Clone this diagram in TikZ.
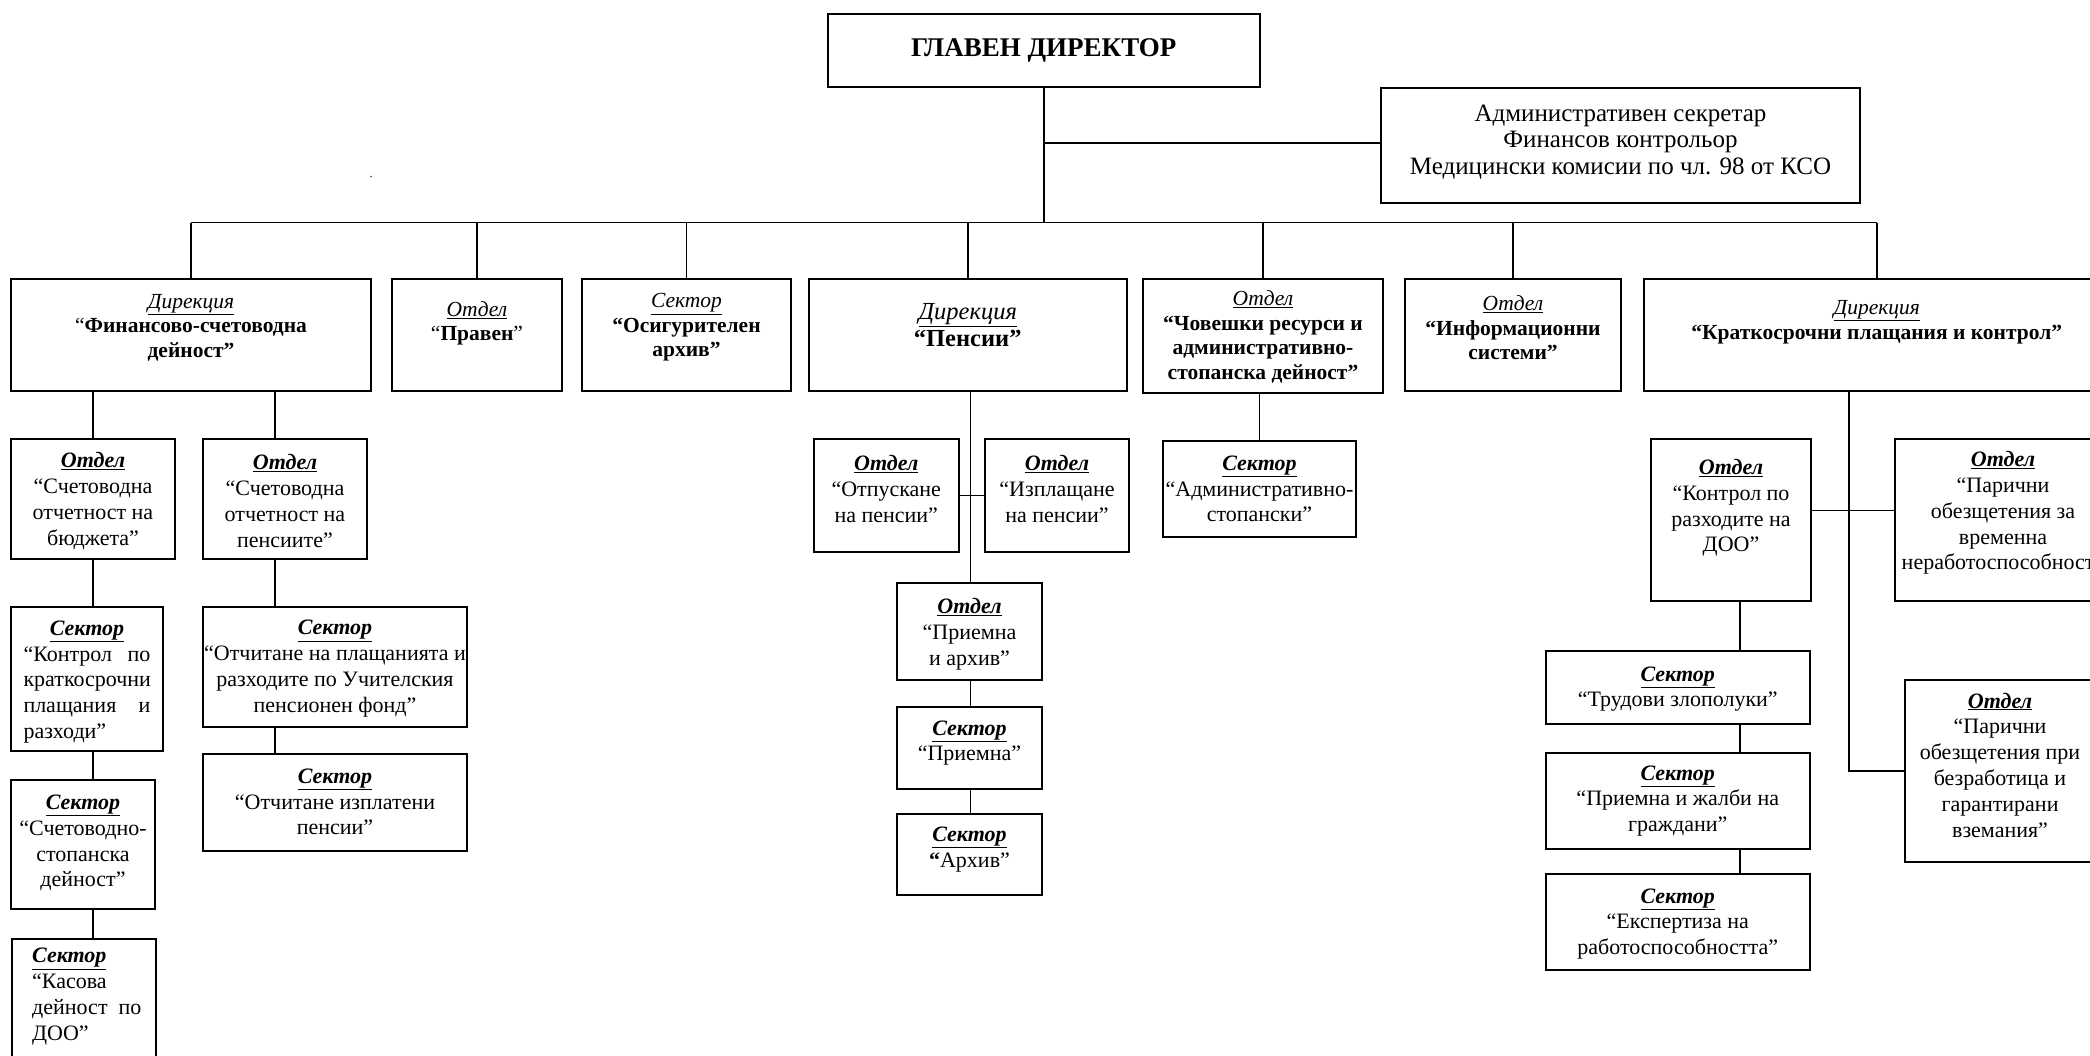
\documentclass[tikz,border=0pt]{standalone}
\usepackage{fontspec}
\setmainfont{Liberation Serif}
\usetikzlibrary{calc}
\tikzset{
  boxst/.style={draw, line width=2pt, rectangle, inner sep=0pt},
  txt/.style={inner sep=0pt, align=center, font=\fontsize{22}{25.8}\selectfont},
  toptxt/.style={font=\fontsize{21.5}{24.5}\selectfont},
  conn/.style={line width=1.8pt},
}
\newcommand\hd[1]{\textbf{\textit{\underline{#1}}}}
\newcommand\hi[1]{\textit{\underline{#1}}}
% [text style] name x1 y1 x2 y2 texty text
\newcommand\bx[8][]{%
  \node[boxst, minimum width={#5pt-#3pt}, minimum height={#6pt-#4pt}] (#2) at ({(#3+#5)/2},{(#4+#6)/2}) {};
  \node[txt,#1] (#2t) at ({(#3+#5)/2},#7) {#8};
}
\begin{document}
\begin{tikzpicture}[x=1pt,y=-1pt]
\useasboundingbox (0,0) rectangle (2090,1055);
\clip (0,0) rectangle (2090,1055);

% top
\bx[font=\fontsize{27}{30}\selectfont]{main}{828}{14}{1259.5}{86.5}{50}{\textbf{ГЛАВЕН ДИРЕКТОР}}
\bx[font=\fontsize{25}{26.5}\selectfont]{admin}{1381}{87.5}{1860}{203}{142}{Административен секретар\\Финансов контрольор\\Медицински комисии по чл. 98 от КСО}

% level 1
\bx[toptxt]{fin}{11}{278.5}{371}{391}{327.5}{\hi{Дирекция}\\“\textbf{Финансово-счетоводна}\\\textbf{дейност”}}
\bx[toptxt]{prav}{392}{278.5}{562}{391}{323.5}{\hi{Отдел}\\“\textbf{Правен}”}
\bx[toptxt]{osig}{582}{278.5}{791}{391}{327.5}{\hi{Сектор}\\\textbf{“Осигурителен}\\\textbf{архив”}}
\bx[font=\fontsize{24.5}{27}\selectfont]{pens}{808.5}{278.5}{1127}{391}{325}{\hi{Дирекция}\\\textbf{“Пенсии”}}
\bx[toptxt]{chov}{1143}{278.5}{1383}{393}{337}{\hi{Отдел}\\\textbf{“Човешки ресурси и}\\\textbf{административно-}\\\textbf{стопанска дейност”}}
\bx[toptxt]{info}{1405}{278.5}{1621}{391}{328}{\hi{Отдел}\\\textbf{“Информационни}\\\textbf{системи”}}
\bx[toptxt]{kr}{1643.5}{278.5}{2110}{391}{322}{\hi{Дирекция}\\\textbf{“Краткосрочни плащания и контрол”}}

% finance subtree
\bx{c1}{11}{439}{175}{559}{501}{\hd{Отдел}\\“Счетоводна\\отчетност на\\бюджета”}
\bx{c2}{203}{439}{367}{559}{501}{\hd{Отдел}\\“Счетоводна\\отчетност на\\пенсиите”}
\bx{s1}{11}{607}{163}{751}{682}{\hd{Сектор}\\\makebox[127pt][l]{“Контрол\hfill по}\\\makebox[127pt][l]{краткосрочни}\\\makebox[127pt][l]{плащания\hfill и}\\\makebox[127pt][l]{разходи”}}
\bx{s2}{11}{780}{155}{909}{843}{\hd{Сектор}\\“Счетоводно-\\стопанска\\дейност”}
\node[boxst, minimum width=144pt, minimum height=140pt, anchor=north west] (s3) at (11,938) {};
\node[txt, align=left, anchor=north west] (s3t) at (32,948) {\hd{Сектор}\\“Касова\\дейност\ \ по\\ДОО”};
\bx{o1}{203}{607}{467}{727}{668.5}{\hd{Сектор}\\“Отчитане на плащанията и\\разходите по Учителския\\пенсионен фонд”}
\bx{o2}{203}{754}{467}{851}{802}{\hd{Сектор}\\“Отчитане изплатени\\пенсии”}

% pensions subtree
\bx{otp}{814}{439}{958.5}{552}{489}{\hd{Отдел}\\“Отпускане\\на пенсии”}
\bx{izp}{985}{439}{1129}{552}{489}{\hd{Отдел}\\“Изплащане\\на пенсии”}
\bx{pa}{897}{583}{1042}{679.5}{634}{\hd{Отдел}\\“Приемна\\и архив”}
\bx{pr}{897}{707}{1042}{788.5}{743}{\hd{Сектор}\\“Приемна”}
\bx{ar}{897}{813.5}{1042}{895}{849.5}{\hd{Сектор}\\\textbf{“}Архив”}

% HR subtree
\bx{as}{1163}{441}{1356}{537}{489}{\hd{Сектор}\\“Административно-\\стопански”}

% short-term payments subtree
\bx{kd}{1651}{439}{1811}{601}{508}{\hd{Отдел}\\“Контрол по\\разходите на\\ДОО”}
\bx{pv}{1895}{439}{2111}{601}{513}{\hd{Отдел}\\“Парични\\обезщетения за\\временна\\неработоспособност”}
\bx{tz}{1545.5}{651}{1810}{723.5}{689}{\hd{Сектор}\\“Трудови злополуки”}
\bx{pj}{1545.5}{752.5}{1810}{848.5}{801}{\hd{Сектор}\\“Приемна и жалби на\\граждани”}
\bx{ex}{1545.5}{873.5}{1810}{969.5}{924}{\hd{Сектор}\\“Експертиза на\\работоспособността”}
\bx{pb}{1905}{680}{2095}{862}{765}{\hd{Отдел}\\“Парични\\обезщетения при\\безработица и\\гарантирани\\вземания”}

\node[inner sep=0pt, anchor=base, font=\fontsize{12}{12}\selectfont] (dot) at (371,177) {.};

% connectors
\coordinate (bus) at (1043.75,222.5);
\coordinate (adj) at (1043.75,143);
\draw[conn] (main.south) -- (main.south |- bus);
\draw[conn] (adj) -- (adj -| admin.west);
\draw[conn] (fin.north |- bus) -- (kr.north |- bus);
\foreach \n in {fin,prav,osig,pens,chov,info,kr} \draw[conn] (\n.north |- bus) -- (\n.north);

\coordinate (colB) at (275,0);
\draw[conn] (c1.north |- fin.south) -- (c1.north);
\draw[conn] (colB |- fin.south) -- (colB |- c2.north);
\draw[conn] (c1.south) -- (c1.south |- s1.north);
\draw[conn] (c1.south |- s1.south) -- (c1.south |- s2.north);
\draw[conn] (c1.south |- s2.south) -- (c1.south |- s3.north);
\draw[conn] (colB |- c2.south) -- (colB |- o1.north);
\draw[conn] (colB |- o1.south) -- (colB |- o2.north);

\coordinate (colP) at (970.5,0);
\draw[conn] (colP |- pens.south) -- (colP |- pa.north);
\draw[conn] (otp.east) -- (izp.west);
\draw[conn] (colP |- pa.south) -- (colP |- pr.north);
\draw[conn] (colP |- pr.south) -- (colP |- ar.north);

\draw[conn] (as.north |- chov.south) -- (as.north);

\coordinate (colK) at (1849,0);
\coordinate (kh) at (1849,510.5);
\draw[conn] (colK |- kr.south) -- (colK |- pb.west) -- (pb.west);
\draw[conn] (kh -| kd.east) -- (kh -| pv.west);
\coordinate (colD) at (1740,0);
\draw[conn] (colD |- kd.south) -- (colD |- tz.north);
\draw[conn] (colD |- tz.south) -- (colD |- pj.north);
\draw[conn] (colD |- pj.south) -- (colD |- ex.north);
\end{tikzpicture}
\end{document}
